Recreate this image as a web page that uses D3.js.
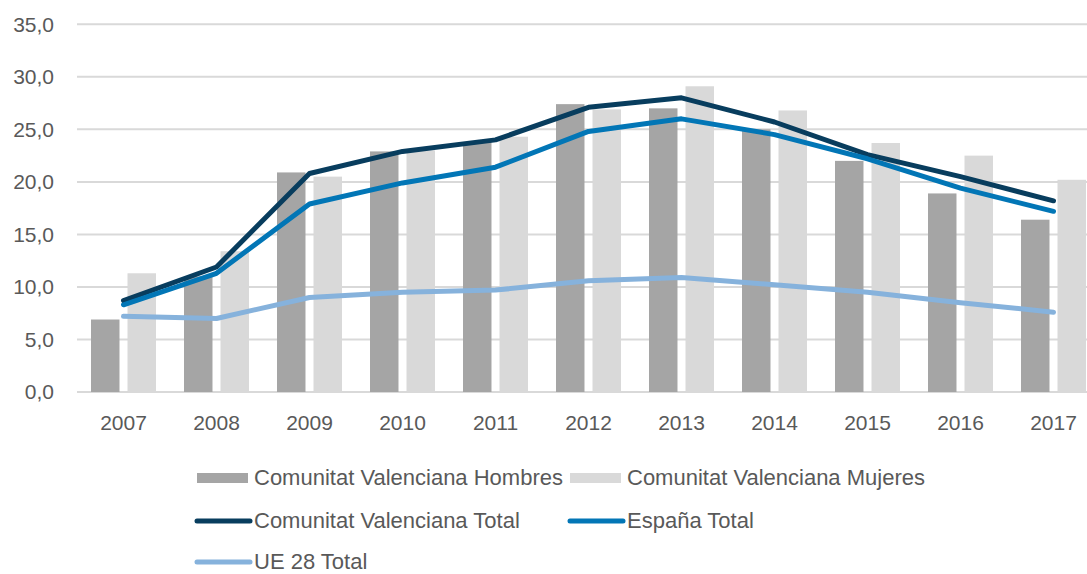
<!DOCTYPE html>
<html>
<head>
    <meta charset="utf-8">
    <title>Comunitat Valenciana</title>
    <script type="text/javascript" src="https://d3js.org/d3.v7.min.js"></script>
    <style type="text/css">
        body { margin: 0; background: #fff; }
        text { font-family: "Liberation Sans", Arial, sans-serif; fill: #595959; }
    </style>
</head>
<body>
    <script type="text/javascript">
        var years = ["2007", "2008", "2009", "2010", "2011", "2012", "2013", "2014", "2015", "2016", "2017"];

        var cvHombres = [6.9, 11.0, 20.9, 22.9, 23.8, 27.4, 27.0, 25.0, 22.0, 18.9, 16.4];
        var cvMujeres = [11.3, 13.4, 20.5, 23.0, 24.3, 26.9, 29.1, 26.8, 23.7, 22.5, 20.2];
        var cvTotal = [8.7, 11.9, 20.8, 22.9, 24.0, 27.1, 28.0, 25.7, 22.6, 20.5, 18.2];
        var espanaTotal = [8.3, 11.3, 17.9, 19.9, 21.4, 24.8, 26.0, 24.5, 22.2, 19.4, 17.2];
        var ueTotal = [7.2, 7.0, 9.0, 9.5, 9.7, 10.6, 10.9, 10.2, 9.5, 8.5, 7.6];

        var yTicks = [0, 5, 10, 15, 20, 25, 30, 35];

        var barSeries = [
            { name: "Comunitat Valenciana Hombres", values: cvHombres, color: "#a5a5a5" },
            { name: "Comunitat Valenciana Mujeres", values: cvMujeres, color: "#d9d9d9" }
        ];
        var lineSeries = [
            { name: "Comunitat Valenciana Total", values: cvTotal, color: "#083d5e" },
            { name: "España Total", values: espanaTotal, color: "#0276b6" },
            { name: "UE 28 Total", values: ueTotal, color: "#86b2dc" }
        ];

        var width = 1087, height = 574;
        var left = 77, step = 93;

        var svg = d3.select("body").append("svg")
            .attr("width", width)
            .attr("height", height);

        var x = d3.scaleBand()
            .domain(years)
            .range([left, left + step * years.length]);

        var xs = d3.scaleBand()
            .domain(barSeries.map(function(d) { return d.name; }))
            .range([14, 79])
            .paddingInner(0.22);

        var y = d3.scaleLinear()
            .domain([0, 35])
            .range([392, 24.3]);

        var comma = d3.formatLocale({ decimal: ",", thousands: ".", grouping: [3], currency: ["", "€"] });

        // grid
        svg.append("g")
            .selectAll("line")
            .data(yTicks)
            .enter().append("line")
            .attr("x1", left)
            .attr("x2", width + 20)
            .attr("y1", function(d) { return y(d); })
            .attr("y2", function(d) { return y(d); })
            .attr("stroke", "#d9d9d9")
            .attr("stroke-width", 2);

        // y axis labels
        var yAxis = svg.append("g")
            .attr("transform", "translate(58,0)")
            .call(d3.axisLeft(y).tickValues(yTicks).tickSize(0).tickFormat(comma.format(".1f")));
        yAxis.select(".domain").remove();
        yAxis.selectAll("text")
            .attr("x", -4)
            .style("font-size", "21px")
            .style("fill", "#595959")
            .style("font-family", "'Liberation Sans', Arial, sans-serif");

        // bars
        var groups = svg.append("g")
            .selectAll("g")
            .data(barSeries)
            .enter().append("g")
            .attr("fill", function(d) { return d.color; });

        groups.selectAll("rect")
            .data(function(s) {
                return s.values.map(function(v, i) { return { name: s.name, year: years[i], value: v }; });
            })
            .enter().append("rect")
            .attr("x", function(d) { return x(d.year) + xs(d.name); })
            .attr("width", xs.bandwidth())
            .attr("y", function(d) { return y(d.value); })
            .attr("height", function(d) { return y(0) - y(d.value); });

        // lines
        var line = d3.line()
            .x(function(d, i) { return x(years[i]) + x.bandwidth() / 2; })
            .y(function(d) { return y(d); });

        svg.append("g")
            .selectAll("path")
            .data(lineSeries)
            .enter().append("path")
            .attr("d", function(d) { return line(d.values); })
            .attr("fill", "none")
            .attr("stroke", function(d) { return d.color; })
            .attr("stroke-width", 5)
            .attr("stroke-linejoin", "round")
            .attr("stroke-linecap", "round");

        // x axis labels
        var xAxis = svg.append("g")
            .attr("transform", "translate(0,392)")
            .call(d3.axisBottom(x).tickSize(0));
        xAxis.select(".domain").remove();
        xAxis.selectAll("text")
            .attr("y", 23)
            .style("font-size", "21px")
            .style("fill", "#595959")
            .style("font-family", "'Liberation Sans', Arial, sans-serif");

        // legend
        var legendItems = [
            { s: barSeries[0], type: "bar", x: 197, y: 478 },
            { s: barSeries[1], type: "bar", x: 570, y: 478 },
            { s: lineSeries[0], type: "line", x: 197, y: 521 },
            { s: lineSeries[1], type: "line", x: 570, y: 521 },
            { s: lineSeries[2], type: "line", x: 197, y: 562 }
        ];

        var legend = svg.append("g")
            .selectAll("g")
            .data(legendItems)
            .enter().append("g")
            .attr("transform", function(d) { return "translate(" + d.x + "," + d.y + ")"; });

        legend.filter(function(d) { return d.type == "bar"; })
            .append("rect")
            .attr("x", 0)
            .attr("y", -5)
            .attr("width", 51)
            .attr("height", 10)
            .attr("fill", function(d) { return d.s.color; });

        legend.filter(function(d) { return d.type == "line"; })
            .append("line")
            .attr("x1", 0)
            .attr("x2", 53)
            .attr("stroke", function(d) { return d.s.color; })
            .attr("stroke-width", 5)
            .attr("stroke-linecap", "round");

        legend.append("text")
            .attr("x", 57)
            .attr("y", 7)
            .style("font-size", "22px")
            .text(function(d) { return d.s.name; });
    </script>
</body>
</html>
